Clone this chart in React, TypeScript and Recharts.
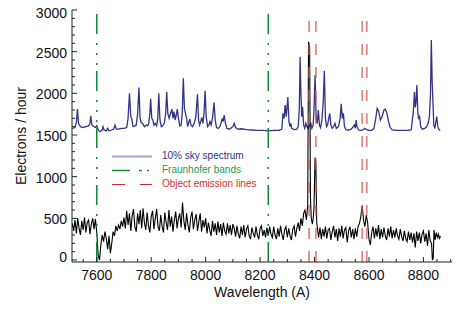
import React from 'react';
import { ComposedChart, Line, XAxis, YAxis, ReferenceLine, Legend } from 'recharts';

const FONT = '"Liberation Sans", Arial, Helvetica, sans-serif';

// Sky spectrum (10%), wavelength in Angstrom and electrons/hour
const skyWavelength = [
  7510, 7520, 7525, 7529, 7533, 7540, 7550, 7560, 7570, 7575, 7578, 7582, 7590, 7595, 7600, 7605, 7612, 7620, 7623, 7627,
  7635, 7640, 7645, 7655, 7662, 7667, 7672, 7680, 7690, 7700, 7710, 7715, 7720, 7725, 7729, 7733, 7740, 7745, 7750, 7755,
  7759, 7763, 7768, 7775, 7782, 7787, 7791, 7795, 7798, 7802, 7806, 7810, 7815, 7820, 7824, 7828, 7832, 7837, 7842, 7848,
  7853, 7857, 7861, 7866, 7871, 7876, 7880, 7884, 7888, 7892, 7896, 7900, 7905, 7910, 7914, 7918, 7922, 7926, 7930, 7934,
  7938, 7942, 7946, 7952, 7958, 7964, 7970, 7974, 7978, 7982, 7986, 7990, 7994, 7998, 8002, 8007, 8012, 8016, 8020, 8025,
  8031, 8035, 8040, 8046, 8052, 8058, 8061, 8064, 8068, 8072, 8078, 8085, 8092, 8100, 8105, 8110, 8118, 8130, 8150, 8170,
  8190, 8210, 8230, 8250, 8270, 8280, 8284, 8288, 8292, 8296, 8302, 8306, 8310, 8313, 8316, 8325, 8335, 8340, 8344, 8347,
  8350, 8353, 8356, 8360, 8364, 8368, 8372, 8376, 8380, 8386, 8390, 8395, 8398, 8402, 8406, 8410, 8414, 8418, 8422, 8427,
  8432, 8436, 8440, 8444, 8448, 8452, 8456, 8460, 8465, 8470, 8475, 8480, 8488, 8494, 8498, 8502, 8506, 8510, 8515, 8525,
  8535, 8542, 8546, 8550, 8553, 8556, 8562, 8570, 8578, 8584, 8590, 8600, 8610, 8618, 8624, 8630, 8636, 8642, 8648, 8655,
  8660, 8666, 8672, 8678, 8686, 8700, 8720, 8740, 8755, 8760, 8763, 8767, 8770, 8773, 8776, 8779, 8782, 8786, 8790, 8796,
  8805, 8812, 8818, 8822, 8826, 8829, 8832, 8835, 8838, 8842, 8846, 8849, 8853, 8858, 8862,
];
const skyFlux = [
  1580, 1590, 1650, 1810, 1640, 1600, 1590, 1600, 1610, 1640, 1730, 1620, 1600, 1590, 1610, 1560, 1540, 1560, 1600, 1560,
  1550, 1580, 1550, 1560, 1570, 1620, 1570, 1570, 1580, 1580, 1590, 1700, 2000, 1720, 1690, 1600, 1610, 1620, 1750, 2070,
  1700, 1650, 1640, 1600, 1620, 1610, 1640, 1760, 1935, 1700, 1680, 1620, 1640, 1610, 1700, 2000, 1680, 1600, 1610, 1640,
  1750, 2020, 1760, 1700, 1760, 1810, 1700, 1780, 1680, 1740, 1810, 1700, 1610, 1620, 1760, 2180, 1820, 1760, 1700, 1600,
  1650, 1690, 1620, 1600, 1640, 1720, 1990, 1680, 1620, 1660, 1710, 1640, 1760, 2030, 1720, 1600, 1620, 1660, 1620, 1700,
  1890, 1680, 1590, 1580, 1600, 1660, 1700, 1660, 1740, 1650, 1580, 1570, 1580, 1600, 1640, 1590, 1570, 1575, 1565, 1560,
  1555, 1555, 1550, 1555, 1555, 1570, 1760, 1700, 1860, 1720, 1955, 1660, 1600, 1640, 1580, 1565, 1570, 1600, 1800, 2440,
  2000, 1720, 1840, 1620, 1580, 1640, 1600, 1580, 1600, 1640, 1580, 1620, 1800, 2220, 1700, 1640, 1800, 1620, 1590, 1680,
  1900, 2270, 1700, 1600, 1620, 1700, 1760, 1620, 1580, 1600, 1640, 1580, 1600, 1700, 1875, 1700, 1760, 1600, 1565, 1560,
  1570, 1600, 1620, 1580, 1680, 1600, 1560, 1555, 1560, 1580, 1565, 1555, 1555, 1580, 1680, 1820, 1780, 1680, 1720, 1800,
  1810, 1760, 1660, 1590, 1560, 1555, 1555, 1555, 1560, 1700, 1780, 2020, 1830, 1900, 2100, 1800, 1690, 1720, 1600, 1570,
  1580, 1600, 1650, 1720, 2000, 2640, 2150, 1900, 1620, 1580, 1660, 1720, 1600, 1560, 1555,
];

// Object spectrum
const objectWavelength = [
  7510, 7515, 7520, 7525, 7530, 7535, 7540, 7545, 7550, 7555, 7560, 7565, 7570, 7575, 7580, 7585, 7590, 7595,
  7600, 7605, 7610, 7615, 7620, 7625, 7630, 7635, 7640, 7645, 7650, 7655, 7660, 7665, 7670, 7675, 7680, 7685, 7690, 7695, 7700,
  7705, 7710, 7715, 7720, 7725, 7730, 7735, 7740, 7745, 7750, 7755, 7760, 7765, 7770, 7775, 7780, 7785, 7790, 7795, 7800,
  7805, 7810, 7815, 7820, 7825, 7830,
  7835, 7840, 7845, 7850, 7855, 7860, 7865, 7870, 7875, 7880, 7885, 7890, 7895, 7900, 7905, 7910, 7915, 7920, 7925, 7930,
  7935, 7940, 7945, 7950, 7955, 7960, 7965, 7970, 7975, 7980, 7985, 7990, 7995,
  8000, 8005, 8010, 8015, 8020, 8025, 8030, 8035, 8040, 8045, 8050, 8055, 8060, 8065, 8070, 8075, 8080, 8085, 8090, 8095, 8100,
  8105, 8110, 8115, 8120, 8125, 8130, 8135, 8140, 8145, 8150, 8155, 8160, 8165, 8170, 8175, 8180, 8185, 8190, 8195, 8200,
  8205, 8210, 8215, 8220, 8225, 8230, 8235, 8240,
  8245, 8250, 8255, 8260, 8265, 8270, 8275, 8280, 8285, 8290, 8295, 8300, 8305, 8310, 8315, 8320, 8325, 8330, 8335,
  8340, 8345, 8350, 8355, 8360, 8365, 8370,
  8375, 8378, 8382, 8385, 8388, 8392, 8395, 8398, 8402, 8405, 8408, 8411,
  8415, 8420, 8425, 8430, 8435, 8440, 8445, 8450, 8455, 8460, 8465, 8470, 8475, 8480, 8485, 8490, 8495, 8500, 8505, 8510,
  8515, 8520, 8525, 8530, 8535, 8540, 8545, 8550, 8555, 8560, 8565,
  8570, 8575, 8580, 8585, 8590, 8595, 8600, 8605, 8610,
  8615, 8620, 8625, 8630, 8635, 8640, 8645, 8650, 8655, 8660, 8665, 8670, 8675, 8680, 8685, 8690, 8695, 8700, 8705, 8710,
  8715, 8720,
  8725, 8730, 8735, 8740, 8745, 8750, 8755, 8760, 8765, 8770, 8775, 8780, 8785, 8790, 8795, 8800, 8805, 8810, 8815, 8820, 8825,
  8830, 8833, 8836, 8839, 8843, 8847, 8851, 8855, 8859, 8862,
];
const objectFlux = [
  440, 350, 480, 320, 500, 380, 300, 470, 360, 510, 330, 450, 480, 310, 430, 500, 370, 490,
  330, 60, 0, 180, 300, 220, 340, 260, 130, 290, 80, 200, 340, 290, 410, 350, 420, 370, 470, 400, 510,
  380, 590, 420, 560, 350, 530, 610, 400, 340, 560, 430, 600, 380, 620, 450, 360, 570, 410, 330, 520,
  590, 370, 500, 610, 400, 350,
  540, 400, 330, 570, 450, 360, 600, 400, 520, 340, 480, 580, 380, 500, 560, 390, 690, 470, 360, 560,
  420, 330, 510, 580, 370, 480, 550, 350, 460, 560, 340, 480, 390,
  500, 320, 450, 360, 290, 470, 340, 440, 300, 460, 330, 430, 290, 450, 350, 310, 440, 320, 420, 300, 430,
  380, 280, 410, 310, 260, 400, 300, 420, 270, 370, 410, 290, 250, 390, 320, 270, 400, 300, 250, 380,
  410, 290, 360, 270, 390, 290, 400, 310,
  270, 400, 300, 250, 380, 280, 410, 310, 240, 360, 400, 270, 380, 290, 240, 370, 410, 280, 380,
  450, 350, 500, 410, 560, 600, 480,
  650, 2620, 2560, 750, 500, 430, 500, 620, 1230, 1150, 450, 370,
  270, 390, 250, 370, 280, 400, 260, 360, 380, 240, 340, 410, 270, 370, 230, 380, 280, 410, 260, 360,
  390, 210, 350, 400, 270, 370, 250, 380, 280, 400, 440,
  520, 650, 480, 400, 540, 450, 250, 180, 330,
  400, 260, 380, 280, 420, 250, 370, 270, 390, 290, 240, 380, 280, 400, 260, 360, 270, 380, 290, 250,
  370, 280,
  230, 350, 260, 220, 340, 240, 330, 210, 320, 150, 340, 230, 330, 200, 310, 350, 220, 320, 170, 360, 230,
  200, 0, 20, 360, 240, 330, 270, 310, 250, 290,
];

const fraunhoferBands = [7600, 8230];
const emissionLines = [8380, 8405, 8575, 8592];

const xMajorTicks = [7600, 7800, 8000, 8200, 8400, 8600, 8800];
const yMajorTicks = [0, 500, 1000, 1500, 2000, 2500, 3000];
const legendLabels = ['10% sky spectrum', 'Fraunhofer bands', 'Object emission lines'];

const X_DOMAIN: [number, number] = [7509, 8905];
const Y_DOMAIN: [number, number] = [-24, 3000];

const xTicksAll: number[] = [];
for (let t = 7550; t <= 8900; t += 50) xTicksAll.push(t);
const yTicksAll: number[] = [];
for (let t = 0; t <= 3000; t += 100) yTicksAll.push(t);

const skyData = skyWavelength.map((x, i) => ({ x, v: skyFlux[i] }));
const objectData = objectWavelength.map((x, i) => ({ x, v: objectFlux[i] }));

const AXIS = '#222';

const XTick = (props: any) => {
  const { x, y, payload, top } = props;
  const v = payload.value;
  const major = xMajorTicks.includes(v);
  const len = major ? 5 : 3;
  const dir = top ? 1 : -1;
  return (
    <g>
      <line x1={x} x2={x} y1={y} y2={y + dir * len} stroke={AXIS} strokeWidth={1} />
      {!top && major && (
        <text x={x} y={y + 13} textAnchor="middle" dominantBaseline="central" fontSize={14} fill="#111" fontFamily={FONT}>
          {v}
        </text>
      )}
    </g>
  );
};

const YTick = (props: any) => {
  const { x, y, payload, right } = props;
  const v = payload.value;
  const major = yMajorTicks.includes(v);
  const len = major ? 5 : 3;
  const dir = right ? -1 : 1;
  const shift = v === 3000 ? 3 : v === 0 ? -3 : 1;
  return (
    <g>
      <line x1={x} x2={x + dir * len} y1={y} y2={y} stroke={AXIS} strokeWidth={1} />
      {!right && major && (
        <text x={x - 5} y={y + shift} textAnchor="end" dominantBaseline="central" fontSize={14} fill="#111" fontFamily={FONT}>
          {v}
        </text>
      )}
    </g>
  );
};

const renderLegend = () => (
  <svg width={220} height={46} style={{ display: 'block', overflow: 'visible' }}>
    <line x1={12} x2={52} y1={10.5} y2={10.5} stroke="#a4a4d6" strokeWidth={2} />
    <text x={62} y={9.5} dominantBaseline="central" fontSize={10} fill="#30308c" fontFamily={FONT}>{legendLabels[0]}</text>
    <line x1={12} x2={52} y1={24.5} y2={24.5} stroke="#118833" strokeWidth={1.5} strokeDasharray="18 9 3 5 2 10" />
    <text x={62} y={23.5} dominantBaseline="central" fontSize={10} fill="#20995a" fontFamily={FONT}>{legendLabels[1]}</text>
    <line x1={12} x2={52} y1={38.5} y2={38.5} stroke="#c82828" strokeWidth={1} strokeDasharray="13 15 12" />
    <text x={62} y={37.5} dominantBaseline="central" fontSize={10} fill="#d03030" fontFamily={FONT}>{legendLabels[2]}</text>
  </svg>
);

export default function App() {
  return (
    <div style={{ position: 'absolute', left: 0, top: 0, width: 474, height: 316, background: '#fff' }}>
      <ComposedChart width={474} height={316} margin={{ top: 10, right: 22, bottom: 0, left: 0 }}>
        <XAxis
          xAxisId="b"
          dataKey="x"
          type="number"
          orientation="bottom"
          domain={X_DOMAIN}
          allowDataOverflow
          ticks={xTicksAll}
          interval={0}
          height={54}
          tickSize={0}
          tickMargin={0}
          tickLine={false}
          axisLine={{ stroke: AXIS, strokeWidth: 1 }}
          tick={(p: any) => <XTick {...p} />}
          label={{
            value: 'Wavelength (A)',
            content: (lp: any) => {
              const vb = lp.viewBox || { x: 72, y: 262, width: 380 };
              return (
                <text x={vb.x + vb.width / 2} y={vb.y + 30} textAnchor="middle" dominantBaseline="central" fontSize={14} fill="#111" fontFamily={FONT}>
                  Wavelength (A)
                </text>
              );
            },
          }}
        />
        <XAxis
          xAxisId="t"
          dataKey="x"
          type="number"
          orientation="top"
          domain={X_DOMAIN}
          allowDataOverflow
          ticks={xTicksAll}
          interval={0}
          height={0}
          tickSize={0}
          tickMargin={0}
          tickLine={false}
          axisLine={{ stroke: AXIS, strokeWidth: 1 }}
          tick={(p: any) => <XTick {...p} top />}
        />
        <YAxis
          yAxisId="l"
          type="number"
          orientation="left"
          domain={Y_DOMAIN}
          allowDataOverflow
          ticks={yTicksAll}
          interval={0}
          width={72}
          tickSize={0}
          tickMargin={0}
          tickLine={false}
          axisLine={{ stroke: AXIS, strokeWidth: 1 }}
          tick={(p: any) => <YTick {...p} />}
          label={{
            value: 'Electrons / hour',
            content: (lp: any) => {
              const vb = lp.viewBox || { x: 0, y: 10, height: 252 };
              const cx = vb.x + 21;
              const cy = vb.y + vb.height / 2;
              return (
                <text x={cx} y={cy} transform={`rotate(-90, ${cx}, ${cy})`} textAnchor="middle" dominantBaseline="central" fontSize={14} fill="#111" fontFamily={FONT}>
                  Electrons / hour
                </text>
              );
            },
          }}
        />
        <YAxis
          yAxisId="r"
          type="number"
          orientation="right"
          domain={Y_DOMAIN}
          allowDataOverflow
          ticks={yTicksAll}
          interval={0}
          width={0}
          tickSize={0}
          tickMargin={0}
          tickLine={false}
          axisLine={{ stroke: AXIS, strokeWidth: 1 }}
          tick={(p: any) => <YTick {...p} right />}
        />
        <Legend
          layout="horizontal"
          verticalAlign="middle"
          align="center"
          content={renderLegend}
          wrapperStyle={{ left: 100, top: 146, width: 220, height: 46 }}
        />
        <Line
          xAxisId="b"
          yAxisId="l"
          data={skyData}
          dataKey="v"
          type="linear"
          stroke="#33338a"
          strokeWidth={1.3}
          dot={false}
          activeDot={false}
          isAnimationActive={false}
        />
        <Line
          xAxisId="b"
          yAxisId="l"
          data={objectData}
          dataKey="v"
          type="linear"
          stroke="#000"
          strokeWidth={1.1}
          dot={false}
          activeDot={false}
          isAnimationActive={false}
        />
        {fraunhoferBands.map((w) => (
          <ReferenceLine
            key={'f' + w}
            xAxisId="b"
            yAxisId="l"
            x={w}
            stroke="#118833"
            strokeWidth={1.5}
            strokeDasharray="20 6 2 8 2 8 2 9"
          />
        ))}
        {emissionLines.map((w) => (
          <ReferenceLine
            key={'e' + w}
            xAxisId="b"
            yAxisId="l"
            x={w}
            stroke="#dd5555"
            strokeOpacity={0.7}
            strokeWidth={1.8}
            strokeDasharray="11 12"
          />
        ))}
      </ComposedChart>
    </div>
  );
}
